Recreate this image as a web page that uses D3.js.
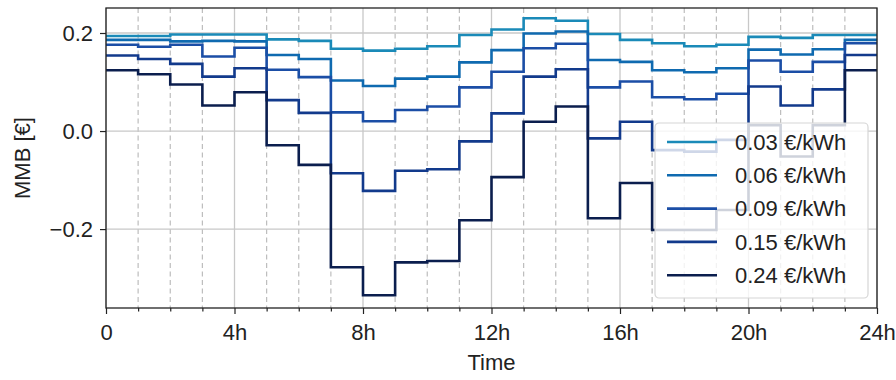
<!DOCTYPE html>
<html>
<head>
<meta charset="utf-8">
<script src="https://cdn.jsdelivr.net/npm/d3@7"></script>
<style>
  body { margin: 0; background: #fff; }
  svg { font-family: Arial, "Liberation Sans", Helvetica, sans-serif; }
</style>
</head>
<body>
<svg id="chart" width="896" height="380"></svg>
<script>
// hourly values, step after
var hours = d3.range(0, 24);
var labels = ["0.03 €/kWh", "0.06 €/kWh", "0.09 €/kWh", "0.15 €/kWh", "0.24 €/kWh"];
var colors = ["#1a8ab8", "#0f6ab0", "#1b4ea6", "#123a8c", "#0b1e4e"];

var mmb003 = [0.194, 0.194, 0.197, 0.197, 0.197, 0.187, 0.184, 0.168, 0.164, 0.168, 0.173, 0.196,
              0.207, 0.230, 0.225, 0.198, 0.186, 0.179, 0.173, 0.176, 0.192, 0.190, 0.196, 0.196];
var mmb006 = [0.186, 0.186, 0.183, 0.184, 0.183, 0.155, 0.147, 0.103, 0.092, 0.107, 0.111, 0.140,
              0.165, 0.199, 0.203, 0.145, 0.141, 0.124, 0.120, 0.128, 0.166, 0.156, 0.167, 0.186];
var mmb009 = [0.176, 0.172, 0.176, 0.152, 0.170, 0.125, 0.110, 0.038, 0.020, 0.043, 0.050, 0.089,
              0.121, 0.169, 0.178, 0.089, 0.101, 0.069, 0.065, 0.076, 0.144, 0.121, 0.141, 0.179];
var mmb015 = [0.154, 0.147, 0.137, 0.111, 0.128, 0.063, 0.037, -0.086, -0.122, -0.081, -0.078, -0.021,
              0.036, 0.111, 0.126, -0.015, 0.019, -0.039, -0.042, -0.018, 0.091, 0.052, 0.085, 0.155];
var mmb024 = [0.124, 0.116, 0.095, 0.052, 0.079, -0.029, -0.069, -0.278, -0.335, -0.268, -0.265, -0.182,
              -0.094, 0.019, 0.050, -0.178, -0.106, -0.202, -0.202, -0.161, 0.012, -0.052, 0.012, 0.124];
var series = [mmb003, mmb006, mmb009, mmb015, mmb024];

var majorTicks = [0, 4, 8, 12, 16, 20, 24];
var yTicks = [-0.2, 0.0, 0.2];

var svg = d3.select("#chart");
var margin = {top: 8, right: 19, bottom: 72, left: 106};
var width = 896 - margin.left - margin.right;
var height = 380 - margin.top - margin.bottom;

var x = d3.scaleLinear().domain([0, 24]).range([0, width]);
var y = d3.scaleLinear().domain([-0.361, 0.251]).range([height, 0]);

var g = svg.append("g").attr("transform", "translate(" + margin.left + "," + margin.top + ")");

// grid
g.selectAll(".minor").data(hours.filter(function(h) { return h % 4 != 0; }))
  .enter().append("line")
  .attr("x1", function(d) { return x(d); }).attr("x2", function(d) { return x(d); })
  .attr("y1", 0).attr("y2", height)
  .attr("stroke", "#bdbdbd").attr("stroke-width", 1.2).attr("stroke-dasharray", "5,3.5");
g.selectAll(".major").data(majorTicks)
  .enter().append("line")
  .attr("x1", function(d) { return x(d); }).attr("x2", function(d) { return x(d); })
  .attr("y1", 0).attr("y2", height)
  .attr("stroke", "#c8c8c8").attr("stroke-width", 1.3);
g.selectAll(".ygrid").data(yTicks)
  .enter().append("line")
  .attr("x1", 0).attr("x2", width)
  .attr("y1", function(d) { return y(d); }).attr("y2", function(d) { return y(d); })
  .attr("stroke", "#c8c8c8").attr("stroke-width", 1.3);

// lines
var line = d3.line()
  .x(function(d) { return x(d[0]); })
  .y(function(d) { return y(d[1]); })
  .curve(d3.curveStepAfter);

series.forEach(function(vals, i) {
  var pts = vals.map(function(v, h) { return [h, v]; });
  pts.push([24, vals[vals.length - 1]]);
  g.append("path").datum(pts)
    .attr("fill", "none")
    .attr("stroke", colors[i])
    .attr("stroke-width", 2.6)
    .attr("d", line);
});

// axes
var xAxis = d3.axisBottom(x).tickValues(majorTicks)
  .tickFormat(function(d) { return d == 0 ? "0" : d + "h"; })
  .tickSize(6).tickPadding(10);
var xMinor = d3.axisBottom(x).tickValues(hours.filter(function(h) { return h % 4 != 0; }))
  .tickFormat("").tickSize(3.5);
var yAxis = d3.axisLeft(y).tickValues(yTicks)
  .tickFormat(function(d) { return d3.format(".1f")(d).replace("-", "\u2212"); })
  .tickSize(6).tickPadding(7);

var gx = g.append("g").attr("transform", "translate(0," + height + ")").call(xAxis);
var gxm = g.append("g").attr("transform", "translate(0," + height + ")").call(xMinor);
var gy = g.append("g").call(yAxis);
[gx, gxm, gy].forEach(function(a) {
  a.attr("font-family", null).attr("font-size", null);
  a.select(".domain").remove();
  a.selectAll("line").attr("stroke", "#222").attr("stroke-width", 1.2);
  a.selectAll("text").attr("fill", "#222").style("font-size", "22px");
});

// frame
g.append("rect").attr("width", width).attr("height", height)
  .attr("fill", "none").attr("stroke", "#222").attr("stroke-width", 1.3);

// labels
svg.append("text").attr("x", margin.left + width / 2).attr("y", 370)
  .attr("text-anchor", "middle").style("font-size", "22px").attr("fill", "#222").text("Time");
svg.append("text")
  .attr("transform", "translate(30," + (margin.top + height / 2) + ") rotate(-90)")
  .attr("text-anchor", "middle").style("font-size", "22px").attr("fill", "#222").text("MMB [€]");

// legend
var lg = g.append("g").attr("transform", "translate(" + (x(24) - 222) + ",115)");
lg.append("rect").attr("x", 0).attr("y", 0).attr("width", 213).attr("height", 175)
  .attr("rx", 4).attr("fill", "#fff").attr("fill-opacity", 0.8)
  .attr("stroke", "#d6d6d6").attr("stroke-width", 1.2);
var items = lg.selectAll(".item").data(labels).enter().append("g")
  .attr("transform", function(d, i) { return "translate(0," + (19 + i * 33.3) + ")"; });
items.append("line").attr("x1", 12).attr("x2", 62).attr("y1", 0).attr("y2", 0)
  .attr("stroke", function(d, i) { return colors[i]; }).attr("stroke-width", 2.6);
items.append("text").attr("x", 80).attr("y", 0).attr("dy", "0.35em")
  .style("font-size", "22px").attr("fill", "#222").text(function(d) { return d; });
</script>
</body>
</html>
